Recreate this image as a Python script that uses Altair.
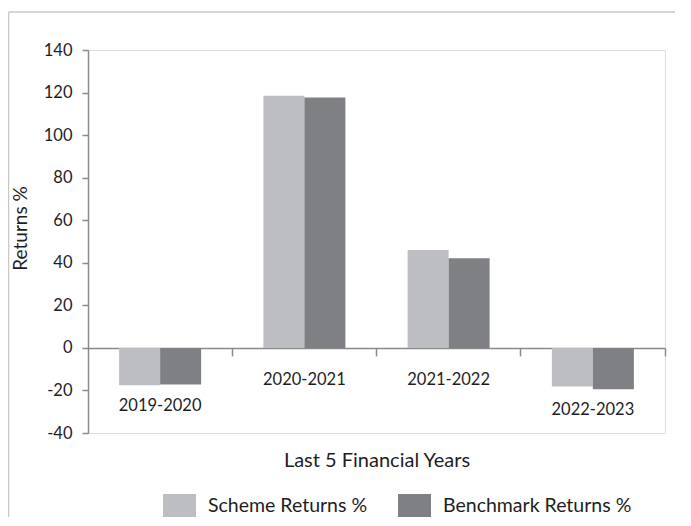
import altair as alt
import pandas as pd

categories = ["2019-2020", "2020-2021", "2021-2022", "2022-2023"]
series_names = ["Scheme Returns %", "Benchmark Returns %"]
scheme_returns = [-17.6, 118.5, 46.0, -18.2]
benchmark_returns = [-17.2, 117.7, 42.1, -19.4]
y_ticks = [-40, -20, 0, 20, 40, 60, 80, 100, 120, 140]
colors = ["#bdbec2", "#7f8084"]

rows = []
for c, s, b in zip(categories, scheme_returns, benchmark_returns):
    rows.append({"category": c, "series": series_names[0], "value": s})
    rows.append({"category": c, "series": series_names[1], "value": b})
df = pd.DataFrame(rows)

lab = pd.DataFrame({
    "category": categories,
    "low": [min(0, s, b) for s, b in zip(scheme_returns, benchmark_returns)],
})

FONT = "Lato"
W, H = 577, 383
ymin, ymax = -40, 140
zero_from_bottom = H * (0 - ymin) / (ymax - ymin)
AX = "#8a8a8a"
TXT = "#1e1e1e"

xenc = alt.X(
    "category:N", sort=categories,
    scale=alt.Scale(domain=categories, paddingInner=0, paddingOuter=0),
    axis=alt.Axis(labels=False, title="Last 5 Financial Years", bandPosition=1,
                  tickSize=8, tickColor=AX, domainColor=AX, domainWidth=1.5, tickWidth=1.5,
                  offset=-zero_from_bottom, titleFont=FONT, titleFontSize=20,
                  titleFontWeight="normal", titleColor=TXT, titleY=113,
                  titleBaseline="middle"),
)
yscale = alt.Scale(domain=[ymin, ymax], nice=False, zero=False)

bars = alt.Chart(df).mark_bar(size=41).encode(
    x=xenc,
    xOffset=alt.XOffset("series:N", sort=series_names,
                        scale=alt.Scale(domain=series_names, paddingInner=0, paddingOuter=0.759)),
    y=alt.Y("value:Q", scale=yscale,
            axis=alt.Axis(values=y_ticks, title="Returns %", grid=False, tickSize=6,
                          tickColor=AX, domainColor=AX, domainWidth=1.5, tickWidth=1.5,
                          labelPadding=10, labelFont=FONT, labelFontSize=16.5, labelColor=TXT,
                          labelExpr="'' + datum.value",
                          titleFont=FONT, titleFontSize=19, titleFontWeight="normal",
                          titleColor=TXT, titleX=-68, titleY=178, titleAngle=-90,
                          titleAlign="center", titleBaseline="middle")),
    color=alt.Color("series:N", sort=series_names,
                    scale=alt.Scale(domain=series_names, range=colors),
                    legend=alt.Legend(title=None, orient="none", direction="horizontal",
                                      legendX=80, legendY=444,
                                      symbolType="M-1.435,-1L1.435,-1L1.435,1L-1.435,1Z",
                                      symbolSize=529, symbolStrokeWidth=0, symbolOpacity=1,
                                      labelFont=FONT, labelFontSize=19.5, labelColor=TXT,
                                      labelLimit=0, labelOffset=17, columnPadding=29)),
)

pos_labels = alt.Chart(lab).transform_filter("datum.low >= 0").mark_text(
    font=FONT, fontSize=16.5, color=TXT, baseline="middle", dy=32
).encode(x=alt.X("category:N", sort=categories), y=alt.Y("low:Q", scale=yscale), text="category:N")

neg_labels = alt.Chart(lab).transform_filter("datum.low < 0").mark_text(
    font=FONT, fontSize=16.5, color=TXT, baseline="middle", dy=21
).encode(x=alt.X("category:N", sort=categories), y=alt.Y("low:Q", scale=yscale), text="category:N")

border_data = alt.Data(values=[{}])
left_border = alt.Chart(border_data).mark_rule(color="#c8c8c8", strokeWidth=1.5).encode(
    x=alt.value(-79.5), y=alt.value(-38), y2=alt.value(H + 120))
top_border = alt.Chart(border_data).mark_rule(color="#c8c8c8", strokeWidth=1.5).encode(
    x=alt.value(-79.5), x2=alt.value(W + 120), y=alt.value(-38))

chart = alt.layer(left_border, top_border, bars, pos_labels, neg_labels).properties(
    width=W, height=H,
    autosize=alt.AutoSizeParams(type="none"),
    padding={"left": 80, "top": 42, "right": 10, "bottom": 84},
).configure_view(stroke=None).configure(background="white")

chart.save("out.html", embed_options={"renderer": "svg", "actions": False})
